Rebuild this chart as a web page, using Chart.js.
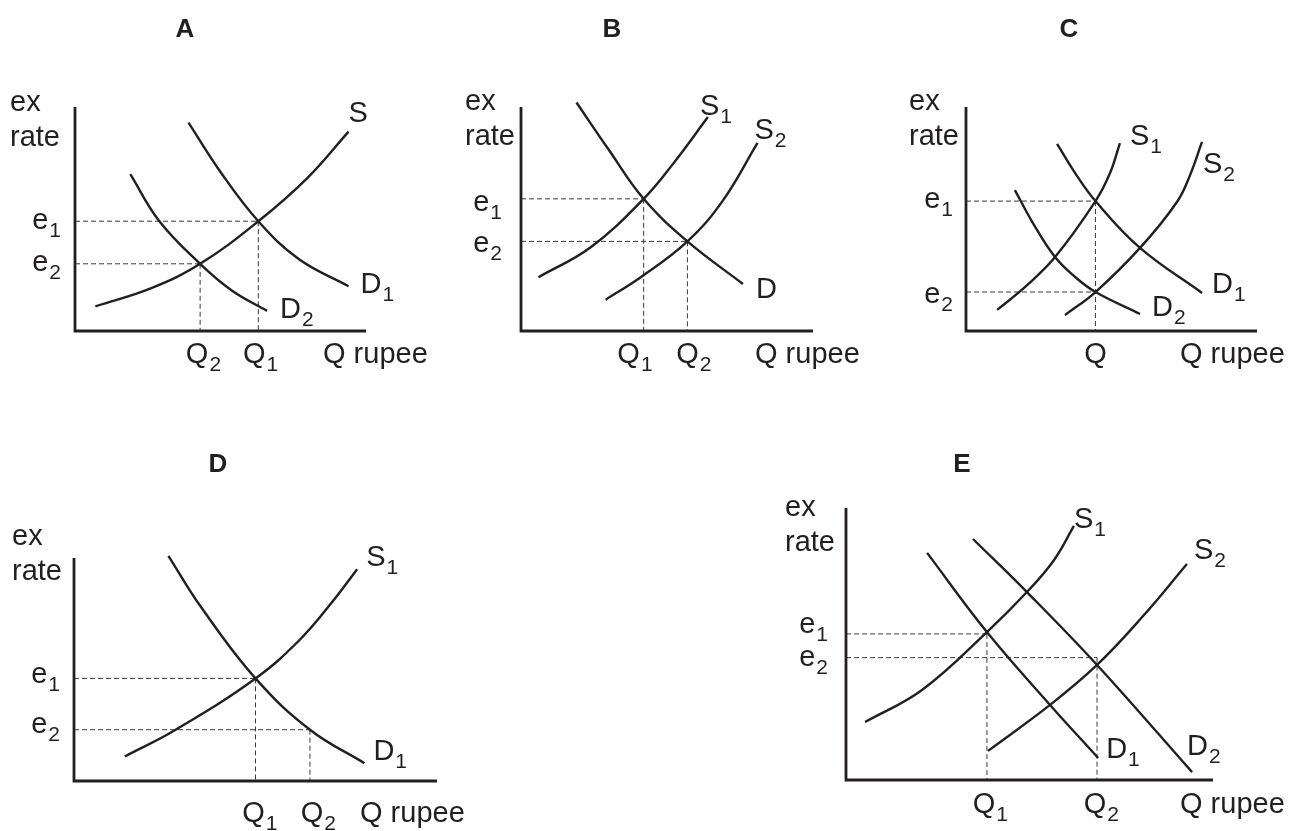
<!DOCTYPE html>
<html>
<head>
<meta charset="utf-8">
<script src="https://cdn.jsdelivr.net/npm/chart.js@4.4.1/dist/chart.umd.min.js"></script>
<style>
  body { margin: 0; background: #fff; width: 1290px; height: 831px; position: relative; overflow: hidden; }
  canvas { position: absolute; }
</style>
</head>
<body>
<canvas id="pA" width="435" height="380" style="left:0;top:0"></canvas>
<canvas id="pB" width="435" height="380" style="left:435px;top:0"></canvas>
<canvas id="pC" width="420" height="380" style="left:870px;top:0"></canvas>
<canvas id="pD" width="600" height="401" style="left:0;top:430px"></canvas>
<canvas id="pE" width="520" height="401" style="left:770px;top:430px"></canvas>
<script>
// curves are [quantity, ex rate] points, axes run 0..10 in both directions

// A
var aS  = [[0.7,1.1],[2.6,1.9],[4.3,3.0],[6.3,4.9],[8.0,6.85],[9.4,8.9]];
var aD1 = [[3.9,9.3],[5.0,7.1],[6.3,4.9],[7.7,3.2],[9.4,2.0]];
var aD2 = [[1.9,7.0],[2.9,4.9],[4.3,3.0],[5.4,1.8],[6.6,0.9]];
var aE = [4.9, 3.0], aEEnd = [6.3, 4.3];
var aQ = [4.3, 6.3], aQTop = [3.0, 4.9], aQSub = ['2', '1'];

// B
var bS1 = [[0.6,2.4],[2.4,3.75],[4.2,5.9],[5.2,7.45],[6.4,9.55]];
var bS2 = [[2.9,1.4],[4.1,2.4],[5.7,4.0],[6.9,5.8],[8.1,8.4]];
var bD  = [[1.9,10.2],[3.0,8.1],[4.2,5.9],[5.7,4.0],[7.6,2.1]];
var bE = [5.9, 4.0], bEEnd = [4.2, 5.7];
var bQ = [4.2, 5.7], bQTop = [5.9, 4.0], bQSub = ['1', '2'];

// C
var cS1 = [[1.07,0.94],[2.1,2.05],[3.06,3.3],[4.45,5.8],[4.95,7.05],[5.29,8.39]];
var cS2 = [[3.4,0.71],[4.45,1.74],[5.98,3.71],[7.25,5.76],[7.7,6.96],[8.11,8.44]];
var cD1 = [[3.13,8.35],[3.75,7.05],[4.45,5.8],[5.98,3.71],[8.11,1.7]];
var cD2 = [[1.68,6.29],[2.3,4.82],[3.06,3.3],[3.75,2.41],[4.45,1.74],[5.98,0.76]];
var cE = [5.8, 1.74], cEEnd = [4.45, 4.45];
var cQ = [4.45], cQTop = [5.8], cQSub = [''];

// D
var dS1 = [[1.4,1.1],[2.8,2.3],[5.0,4.6],[6.2,6.3],[7.1,8.0],[7.8,9.5]];
var dD1 = [[2.6,10.1],[3.5,7.8],[5.0,4.6],[6.5,2.3],[8.0,0.8]];
var dE = [4.6, 2.3], dEEnd = [5.0, 6.5];
var dQ = [5.0, 6.5], dQTop = [4.6, 2.3], dQSub = ['1', '2'];

// E
var eS1 = [[0.52,2.13],[2.07,3.31],[3.84,5.44],[4.93,6.91],[5.67,8.09],[6.21,9.34]];
var eS2 = [[3.87,1.07],[5.56,2.76],[6.84,4.23],[8.07,5.99],[9.29,7.94]];
var eD1 = [[2.21,8.35],[3.84,5.44],[5.56,2.76],[6.87,0.81]];
var eD2 = [[3.46,8.86],[4.93,6.91],[6.84,4.23],[9.43,0.29]];
var eE = [5.37, 4.5], eEEnd = [3.84, 6.84];
var eQ = [3.84, 6.84], eQTop = [5.37, 4.5], eQSub = ['1', '2'];

var eSub = ['1', '2'];
var INK = '#231f20';
var FONT = '"Liberation Sans", Arial, Helvetica, sans-serif';

function xy(pts) {
    return pts.map(function(p) { return { x: p[0], y: p[1] }; });
}

// main text + subscript, y is the baseline
function label(ctx, main, sub, x, y, align) {
    ctx.font = '29px ' + FONT;
    var mw = ctx.measureText(main).width;
    ctx.font = '21px ' + FONT;
    var sw = sub ? ctx.measureText(sub).width + 1 : 0;
    var left = x;
    if (align === 'right') left = x - mw - sw;
    if (align === 'mid') left = x - mw / 2;
    ctx.font = '29px ' + FONT;
    ctx.fillText(main, left, y);
    if (sub) {
        ctx.font = '21px ' + FONT;
        ctx.fillText(sub, left + mw + 1, y + 8);
    }
}

function labelPlugin(cfg) {
    return {
        id: 'econLabels',
        afterDraw: function(chart) {
            var ctx = chart.ctx, ca = chart.chartArea;
            var xs = chart.scales.x, ys = chart.scales.y;
            ctx.save();
            ctx.fillStyle = INK;
            ctx.textBaseline = 'alphabetic';

            ctx.font = 'bold 26px ' + FONT;
            ctx.textAlign = 'center';
            ctx.fillText(cfg.title, cfg.titlePos[0], cfg.titlePos[1]);
            ctx.textAlign = 'left';

            label(ctx, 'ex', '', ca.left + cfg.yTitle[0], ca.top + cfg.yTitle[1], 'left');
            label(ctx, 'rate', '', ca.left + cfg.yTitle[0], ca.top + cfg.yTitle[1] + 35, 'left');

            cfg.e.forEach(function(e, i) {
                label(ctx, 'e', eSub[i], ca.left - cfg.eGap, ys.getPixelForValue(e) + cfg.eDy[i], 'right');
            });
            cfg.q.forEach(function(q, i) {
                label(ctx, 'Q', cfg.qSub[i], xs.getPixelForValue(q) + cfg.qDx[i], ca.bottom + cfg.qDy, 'mid');
            });
            label(ctx, 'Q rupee', '', ca.right + cfg.qTitle[0], ca.bottom + cfg.qTitle[1], 'left');

            cfg.curves.forEach(function(c) {
                var last = c.pts[c.pts.length - 1];
                label(ctx, c.name, c.sub, xs.getPixelForValue(last[0]) + c.off[0],
                      ys.getPixelForValue(last[1]) + c.off[1], 'left');
            });
            ctx.restore();
        }
    };
}

function makePanel(cfg) {
    var datasets = [];
    datasets.push({ data: xy([[0, 10], [0, 0], [10, 0]]), borderWidth: 2.8, order: 2,
                    borderJoinStyle: 'miter', tension: 0 });
    cfg.curves.forEach(function(c) {
        datasets.push({ data: xy(c.pts), borderWidth: 2.4, order: 1, tension: 0.4 });
    });
    cfg.e.forEach(function(e, i) {
        datasets.push({ data: xy([[0, e], [cfg.eEnd[i], e]]), borderWidth: 1, borderDash: [5, 3],
                        borderColor: '#3a3a3a', order: 3, tension: 0 });
    });
    cfg.q.forEach(function(q, i) {
        datasets.push({ data: xy([[q, cfg.qTop[i]], [q, 0]]), borderWidth: 1, borderDash: [5, 3],
                        borderColor: '#3a3a3a', order: 3, tension: 0 });
    });

    new Chart(document.getElementById(cfg.id), {
        type: 'scatter',
        data: { datasets: datasets },
        options: {
            responsive: false,
            animation: false,
            devicePixelRatio: 1,
            events: [],
            layout: { padding: cfg.pad },
            scales: {
                x: { type: 'linear', min: 0, max: 10, display: false },
                y: { type: 'linear', min: 0, max: 10, display: false }
            },
            datasets: {
                scatter: { showLine: true, clip: false, fill: false, pointRadius: 0,
                           borderColor: INK, borderCapStyle: 'butt' }
            },
            plugins: { legend: { display: false }, tooltip: { enabled: false } }
        },
        plugins: [labelPlugin(cfg)]
    });
}

makePanel({
    id: 'pA', title: 'A', titlePos: [185, 37],
    pad: { left: 75, top: 107, right: 69, bottom: 49 },
    curves: [
        { name: 'S', sub: '', pts: aS, off: [0, -10] },
        { name: 'D', sub: '1', pts: aD1, off: [12, 7] },
        { name: 'D', sub: '2', pts: aD2, off: [13, 7] }
    ],
    e: aE, eEnd: aEEnd, eGap: 14, eDy: [8, 7],
    q: aQ, qTop: aQTop, qSub: aQSub, qDx: [-3, -4], qDy: 32,
    yTitle: [-65, 4], qTitle: [-43, 32]
});

makePanel({
    id: 'pB', title: 'B', titlePos: [177, 37],
    pad: { left: 86, top: 107, right: 57, bottom: 49 },
    curves: [
        { name: 'S', sub: '1', pts: bS1, off: [-8, -2] },
        { name: 'S', sub: '2', pts: bS2, off: [-3, -4] },
        { name: 'D', sub: '', pts: bD, off: [13, 14] }
    ],
    e: bE, eEnd: bEEnd, eGap: 19, eDy: [12, 11],
    q: bQ, qTop: bQTop, qSub: bQSub, qDx: [-15, 0], qDy: 32,
    yTitle: [-56, 3], qTitle: [-58, 32]
});

makePanel({
    id: 'pC', title: 'C', titlePos: [199, 37],
    pad: { left: 96, top: 107, right: 33, bottom: 49 },
    curves: [
        { name: 'S', sub: '1', pts: cS1, off: [10, 2] },
        { name: 'S', sub: '2', pts: cS2, off: [1, 31] },
        { name: 'D', sub: '1', pts: cD1, off: [10, 0] },
        { name: 'D', sub: '2', pts: cD2, off: [12, 2] }
    ],
    e: cE, eEnd: cEEnd, eGap: 13, eDy: [7, 11],
    q: cQ, qTop: cQTop, qSub: cQSub, qDx: [0], qDy: 32,
    yTitle: [-57, 3], qTitle: [-77, 32]
});

makePanel({
    id: 'pD', title: 'D', titlePos: [218, 42],
    pad: { left: 74, top: 128, right: 163, bottom: 50 },
    curves: [
        { name: 'S', sub: '1', pts: dS1, off: [9, -3] },
        { name: 'D', sub: '1', pts: dD1, off: [9, -3] }
    ],
    e: dE, eEnd: dEEnd, eGap: 14, eDy: [5, 3],
    q: dQ, qTop: dQTop, qSub: dQSub, qDx: [-2, 2], qDy: 41,
    yTitle: [-62, -13], qTitle: [-77, 41]
});

makePanel({
    id: 'pE', title: 'E', titlePos: [192, 42],
    pad: { left: 76, top: 78, right: 77, bottom: 51 },
    curves: [
        { name: 'S', sub: '1', pts: eS1, off: [0, 2] },
        { name: 'S', sub: '2', pts: eS2, off: [7, -5] },
        { name: 'D', sub: '1', pts: eD1, off: [8, 0] },
        { name: 'D', sub: '2', pts: eD2, off: [-5, -17] }
    ],
    e: eE, eEnd: eEEnd, eGap: 18, eDy: [-1, 8],
    q: eQ, qTop: eQTop, qSub: eQSub, qDx: [-3, -2], qDy: 33,
    yTitle: [-61, 8], qTitle: [-33, 33]
});
</script>
</body>
</html>
